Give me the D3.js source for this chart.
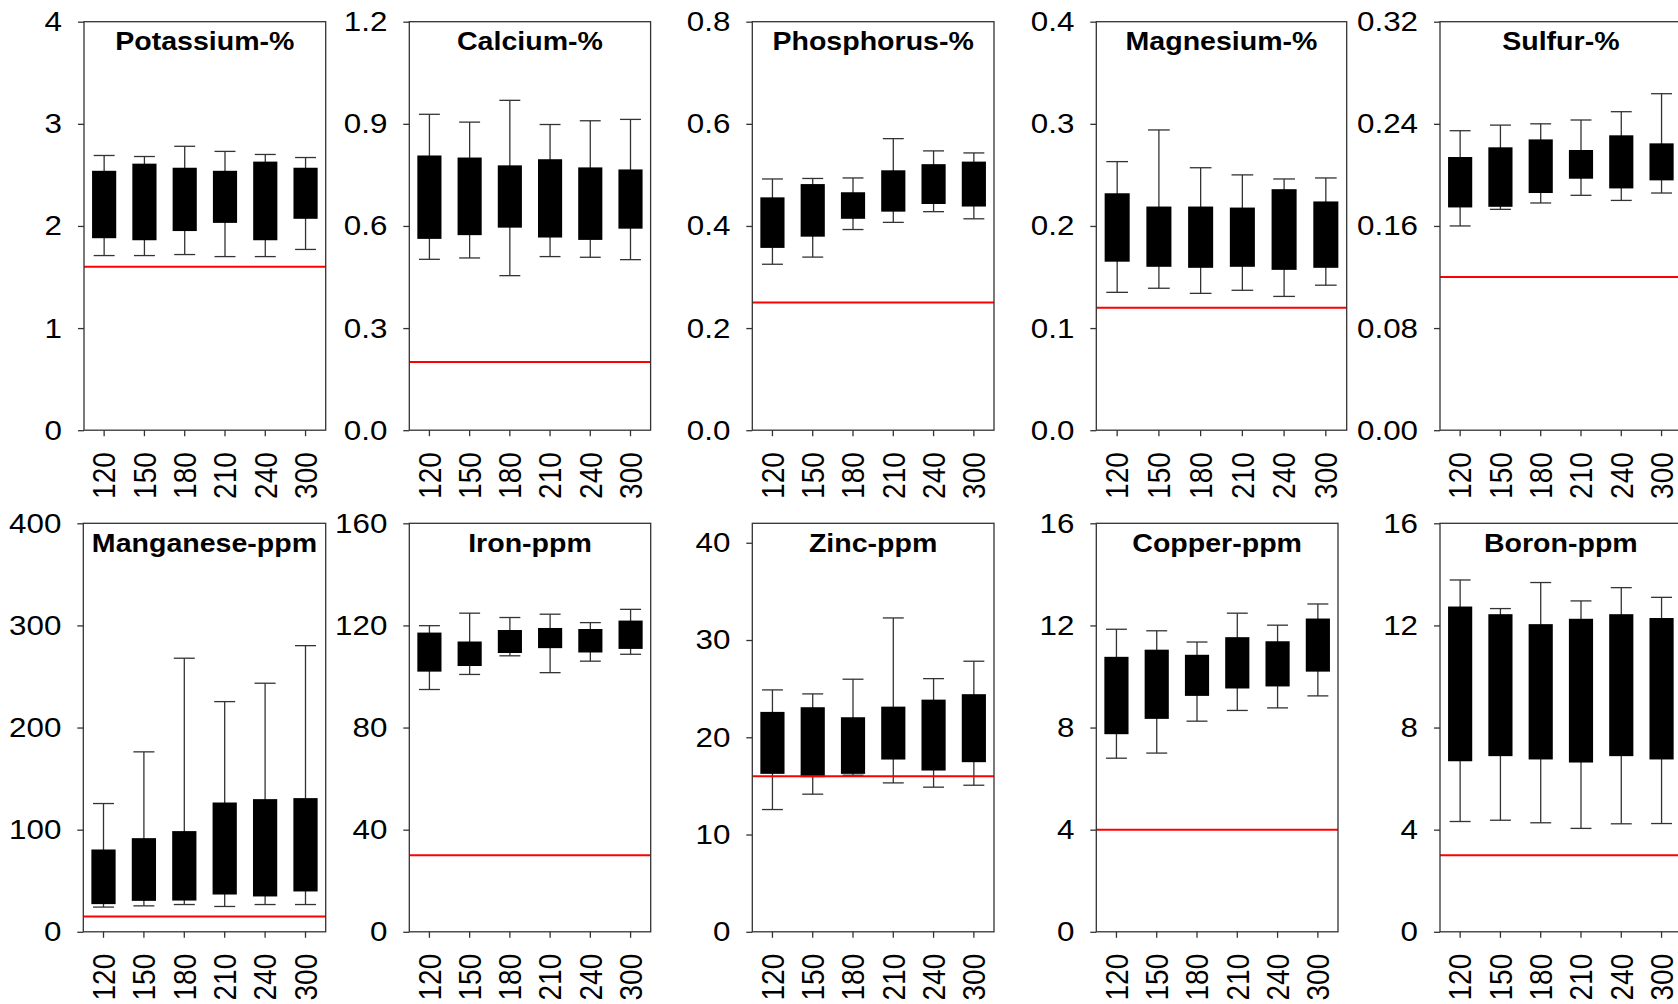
<!DOCTYPE html>
<html>
<head>
<meta charset="utf-8">
<script src="https://cdn.jsdelivr.net/npm/d3@7"></script>
<style>
    body { margin: 0; background: #fff; }
    svg { display: block; }
</style>
</head>
<body>
<div id="chart-area"></div>
<script>
// nitrogen rate categories (x axis)
const rates = ["120", "150", "180", "210", "240", "300"];

// each row: [whisker low, box low, box high, whisker high]
const potassium  = [[1.71, 1.88, 2.54, 2.69], [1.71, 1.86, 2.61, 2.68], [1.72, 1.95, 2.57, 2.78], [1.70, 2.03, 2.54, 2.73], [1.70, 1.86, 2.63, 2.70], [1.77, 2.07, 2.57, 2.67]];
const calcium    = [[0.502, 0.562, 0.807, 0.928], [0.506, 0.573, 0.801, 0.905], [0.454, 0.595, 0.778, 0.969], [0.510, 0.566, 0.796, 0.898], [0.508, 0.559, 0.772, 0.909], [0.501, 0.592, 0.766, 0.913]];
const phosphorus = [[0.325, 0.357, 0.456, 0.492], [0.339, 0.379, 0.482, 0.493], [0.393, 0.414, 0.466, 0.494], [0.407, 0.428, 0.509, 0.571], [0.428, 0.443, 0.521, 0.547], [0.414, 0.438, 0.526, 0.543]];
const magnesium  = [[0.135, 0.165, 0.232, 0.263], [0.139, 0.160, 0.219, 0.294], [0.134, 0.159, 0.219, 0.257], [0.137, 0.160, 0.218, 0.250], [0.131, 0.157, 0.236, 0.246], [0.142, 0.159, 0.224, 0.247]];
const sulfur     = [[0.160, 0.1745, 0.214, 0.2346], [0.173, 0.175, 0.2216, 0.239], [0.178, 0.1858, 0.2278, 0.240], [0.184, 0.197, 0.2195, 0.243], [0.180, 0.1894, 0.231, 0.2495], [0.1858, 0.1957, 0.2247, 0.2636]];
const manganese  = [[24.2, 27.1, 80.6, 125.6], [25.4, 30.3, 91.7, 176.2], [26.7, 30.6, 98.6, 267.9], [24.8, 36.5, 126.6, 225.4], [26.7, 34.6, 129.9, 243.4], [26.7, 39.5, 130.9, 280.2]];
const iron       = [[94.9, 101.9, 117.2, 119.9], [100.8, 104.1, 113.7, 124.8], [108.1, 109.2, 118.2, 123.1], [101.5, 111.1, 119.0, 124.4], [106.0, 109.4, 118.6, 121.1], [108.7, 110.8, 121.9, 126.3]];
const zinc       = [[12.57, 16.24, 22.61, 24.87], [14.15, 15.90, 23.09, 24.46], [16.10, 16.24, 22.06, 25.97], [15.31, 17.71, 23.15, 32.27], [14.87, 16.58, 23.87, 26.03], [15.07, 17.44, 24.43, 27.82]];
const copper     = [[6.80, 7.74, 10.77, 11.85], [7.00, 8.34, 11.05, 11.79], [8.25, 9.24, 10.85, 11.35], [8.67, 9.53, 11.54, 12.48], [8.77, 9.61, 11.38, 12.01], [9.24, 10.19, 12.27, 12.84]];
const boron      = [[4.32, 6.68, 12.74, 13.78], [4.37, 6.88, 12.44, 12.66], [4.27, 6.75, 12.05, 13.68], [4.05, 6.63, 12.26, 12.96], [4.23, 6.88, 12.44, 13.48], [4.24, 6.75, 12.29, 13.10]];

const titles    = ["Potassium-%", "Calcium-%", "Phosphorus-%", "Magnesium-%", "Sulfur-%",
                   "Manganese-ppm", "Iron-ppm", "Zinc-ppm", "Copper-ppm", "Boron-ppm"];
const series    = [potassium, calcium, phosphorus, magnesium, sulfur, manganese, iron, zinc, copper, boron];
const critical  = [1.6, 0.2, 0.25, 0.12, 0.12, 15, 30, 16, 4, 3];   // red sufficiency line
const yMax      = [4, 1.2, 0.8, 0.4, 0.32, 400, 160, 42, 16, 16];
const yTicks    = [[0, 1, 2, 3, 4], [0, 0.3, 0.6, 0.9, 1.2], [0, 0.2, 0.4, 0.6, 0.8], [0, 0.1, 0.2, 0.3, 0.4],
                   [0, 0.08, 0.16, 0.24, 0.32], [0, 100, 200, 300, 400], [0, 40, 80, 120, 160],
                   [0, 10, 20, 30, 40], [0, 4, 8, 12, 16], [0, 4, 8, 12, 16]];
const yFormats  = ["d", ".1f", ".1f", ".1f", ".2f", "d", "d", "d", "d", "d"];

// panel frames in page pixels
const PANEL_LEFT  = [84, 409.3, 752.3, 1096.3, 1440, 83.3, 409.3, 752.3, 1096.3, 1440],
    PANEL_WIDTH   = [241.7, 241.3, 241.7, 250.4, 241.7, 242.4, 241.4, 241.7, 241.7, 241.7],
    PANEL_TOP     = [21.7, 21.7, 21.7, 21.7, 21.7, 523.3, 523.3, 523.3, 523.3, 523.3],
    PANEL_HEIGHT  = 408.5,
    WIDTH = 1678,
    HEIGHT = 1004,
    STRETCH = 1.12,          // text in the source is a bit wider than tall
    FONT = "'Liberation Sans', Arial, sans-serif",
    TICK_FONT_SIZE = 28,
    TITLE_FONT_SIZE = 25.5,
    TICK_SIZE = 6,
    BOX_FRAC = 0.6,
    CAP_FRAC = 0.52,
    COLOR_AXIS = '#333',
    COLOR_BOX = '#000',
    COLOR_CRIT = '#f00';

const svg = d3.select("#chart-area")
    .append("svg")
    .attr("width", WIDTH)
    .attr("height", HEIGHT)
    .attr("viewBox", [0, 0, WIDTH, HEIGHT])
    .style("font-family", FONT);

series.forEach((data, i) => {
    const w = PANEL_WIDTH[i], h = PANEL_HEIGHT;
    const g = svg.append("g").attr("transform", `translate(${PANEL_LEFT[i]},${PANEL_TOP[i]})`);

    const x = d3.scaleBand().domain(rates).range([0, w]);
    const y = d3.scaleLinear().domain([0, yMax[i]]).range([h, 0]);
    const bw = x.bandwidth() * BOX_FRAC, cw = x.bandwidth() * CAP_FRAC;
    const cx = d => x(rates[d.idx]) + x.bandwidth() / 2;
    const rows = data.map((r, idx) => ({idx, lo: r[0], q1: r[1], q3: r[2], hi: r[3]}));

    // whiskers
    const wg = g.append("g").attr("stroke", COLOR_AXIS).attr("stroke-width", 1.3);
    wg.selectAll("line.stem").data(rows).join("line").attr("class", "stem")
        .attr("x1", cx).attr("x2", cx)
        .attr("y1", d => y(d.lo)).attr("y2", d => y(d.hi));
    wg.selectAll("line.cap-hi").data(rows).join("line").attr("class", "cap-hi")
        .attr("x1", d => cx(d) - cw / 2).attr("x2", d => cx(d) + cw / 2)
        .attr("y1", d => y(d.hi)).attr("y2", d => y(d.hi));
    wg.selectAll("line.cap-lo").data(rows).join("line").attr("class", "cap-lo")
        .attr("x1", d => cx(d) - cw / 2).attr("x2", d => cx(d) + cw / 2)
        .attr("y1", d => y(d.lo)).attr("y2", d => y(d.lo));

    // boxes
    g.append("g").selectAll("rect").data(rows).join("rect")
        .attr("x", d => cx(d) - bw / 2)
        .attr("width", bw)
        .attr("y", d => y(d.q3))
        .attr("height", d => y(d.q1) - y(d.q3))
        .attr("fill", COLOR_BOX);

    // critical level
    g.append("line")
        .attr("x1", 0).attr("x2", w)
        .attr("y1", y(critical[i])).attr("y2", y(critical[i]))
        .attr("stroke", COLOR_CRIT)
        .attr("stroke-width", 2);

    // frame
    g.append("rect")
        .attr("width", w).attr("height", h)
        .attr("fill", "none")
        .attr("stroke", COLOR_AXIS)
        .attr("stroke-width", 1.3);

    // y axis
    const yAxis = g.append("g")
        .call(d3.axisLeft(y).tickValues(yTicks[i]).tickFormat(d3.format(yFormats[i]))
            .tickSize(TICK_SIZE).tickSizeOuter(0).tickPadding(13.6));
    yAxis.select(".domain").remove();
    yAxis.selectAll("line").attr("stroke", COLOR_AXIS).attr("stroke-width", 1.3);
    yAxis.selectAll("text")
        .attr("font-size", TICK_FONT_SIZE)
        .attr("font-family", FONT)
        .attr("fill", "#000")
        .attr("transform", `scale(${STRETCH},1)`);

    // x axis with rotated labels
    const xAxis = g.append("g")
        .attr("transform", `translate(0,${h})`)
        .call(d3.axisBottom(x).tickSize(TICK_SIZE).tickSizeOuter(0));
    xAxis.select(".domain").remove();
    xAxis.selectAll("line").attr("stroke", COLOR_AXIS).attr("stroke-width", 1.3);
    xAxis.selectAll("text")
        .attr("font-size", TICK_FONT_SIZE)
        .attr("font-family", FONT)
        .attr("fill", "#000")
        .attr("x", -22)
        .attr("y", 0)
        .attr("dy", "0.36em")
        .attr("text-anchor", "end")
        .attr("transform", `scale(${STRETCH},1) rotate(-90)`);

    // title
    g.append("text")
        .attr("transform", `translate(${w / 2},28.3) scale(${STRETCH},1)`)
        .attr("text-anchor", "middle")
        .attr("font-size", TITLE_FONT_SIZE)
        .attr("font-weight", "bold")
        .text(titles[i]);
});
</script>
</body>
</html>
